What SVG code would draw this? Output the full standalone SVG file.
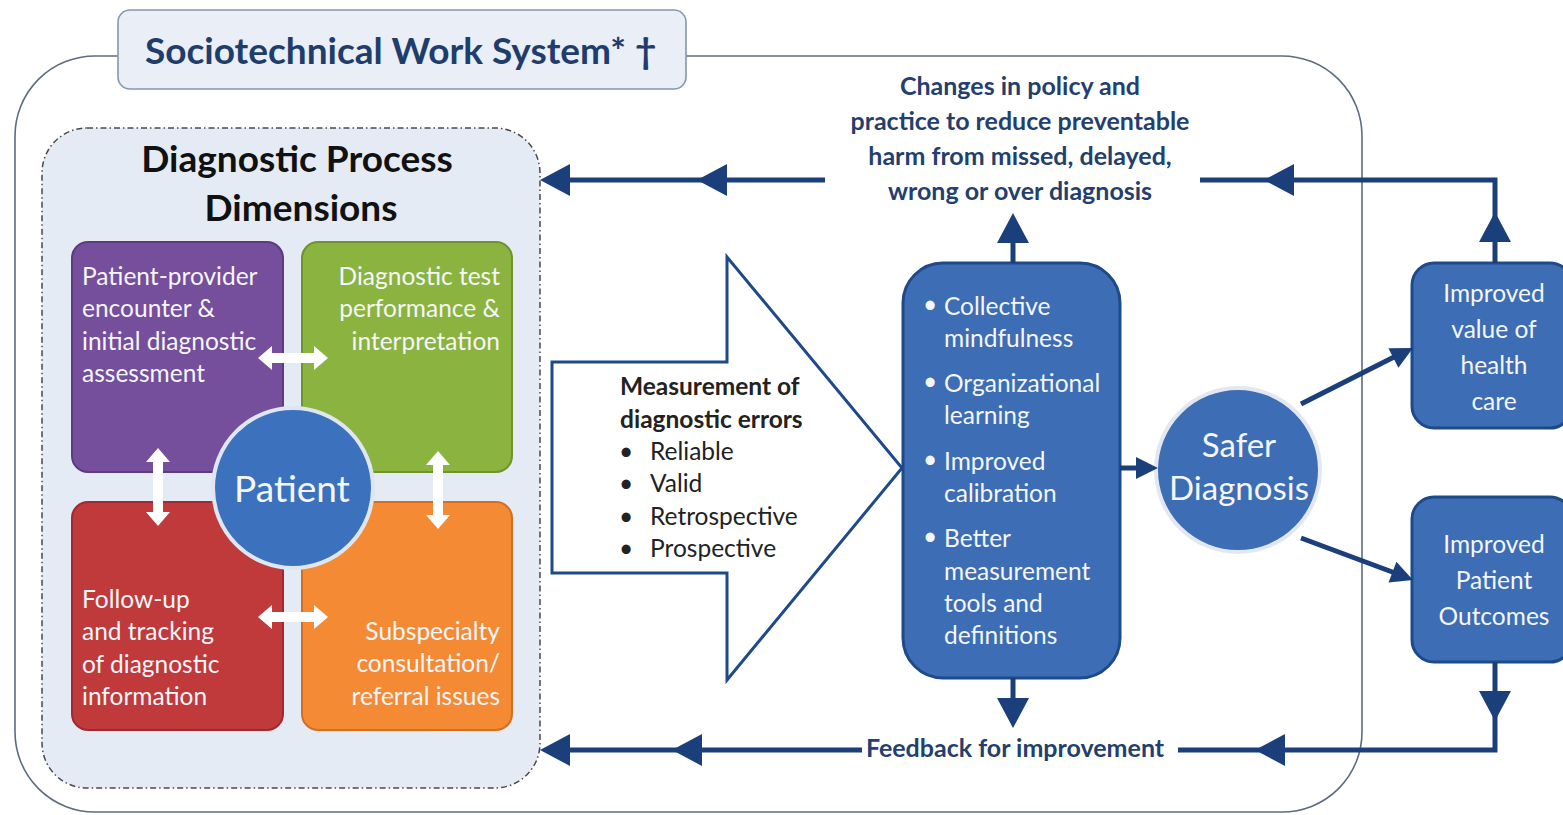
<svg xmlns="http://www.w3.org/2000/svg" width="1563" height="815" viewBox="0 0 1563 815">
  <defs>
    <style>
      .lbl { font-family: Lato, "Liberation Sans", sans-serif; }
      .white { fill: #f4f6fa; font-size: 24.5px; }
      .navy { fill: #243f6e; font-weight: bold; font-size: 25px; }
      .dark { fill: #222; font-size: 24.5px; }
      .conn { stroke: #1b3f7a; stroke-width: 5; fill: none; }
      .head { fill: #1b3f7a; }
      .bluebox { fill: #3d6db4; stroke: #1f4a8a; stroke-width: 3; }
      .dbl { fill: #ffffff; }
    </style>
    <!-- arrowhead, tip at origin, pointing left -->
    <path id="headL" d="M0,0 L30,-16 L30,16 Z"/>
    <path id="headS" d="M0,0 L22,-11 L22,11 Z"/>
    <!-- white double arrows -->
    <path id="dblH" d="M-35,0 L-21,-12 L-21,-5 L21,-5 L21,-12 L35,0 L21,12 L21,5 L-21,5 L-21,12 Z"/>
    <path id="dblV" d="M0,-39 L-12,-25 L-5,-25 L-5,25 L-12,25 L0,39 L12,25 L5,25 L5,-25 L12,-25 Z"/>
  </defs>

  <rect width="1563" height="815" fill="#ffffff"/>

  <!-- outer work system frame -->
  <g id="work-system">
    <rect x="15" y="56" width="1347" height="756" rx="80" ry="80" fill="none" stroke="#5d6c82" stroke-width="1.6"/>
  </g>

  <!-- title tab -->
  <g id="title">
    <rect x="118" y="10" width="568" height="79" rx="12" fill="#e9eef7" stroke="#8797ad" stroke-width="1.6"/>
    <text class="lbl" x="145" y="64" font-size="37" font-weight="bold" fill="#1f3d6b">Sociotechnical Work System* †</text>
  </g>

  <!-- diagnostic process dimensions -->
  <g id="dimensions">
    <rect x="42" y="128" width="498" height="660" rx="45" fill="#e5ebf4" stroke="#4a4a4a" stroke-width="1.5" stroke-dasharray="6 3 1.5 3"/>
    <text class="lbl" x="297" y="172" text-anchor="middle" font-size="37" font-weight="bold" fill="#111">Diagnostic Process</text>
    <text class="lbl" x="301" y="221" text-anchor="middle" font-size="37" font-weight="bold" fill="#111">Dimensions</text>
  </g>

  <g id="encounter">
    <rect x="72" y="242" width="211" height="230" rx="16" fill="#754e9c" stroke="#5d3b80" stroke-width="2"/>
    <text class="lbl white" x="82" y="285">Patient-provider</text>
    <text class="lbl white" x="82" y="317">encounter &amp;</text>
    <text class="lbl white" x="82" y="350">initial  diagnostic</text>
    <text class="lbl white" x="82" y="382">assessment</text>
  </g>

  <g id="testing">
    <rect x="302" y="242" width="210" height="230" rx="16" fill="#8bb33f" stroke="#6f9330" stroke-width="2"/>
    <text class="lbl white" x="500" y="285" text-anchor="end">Diagnostic test</text>
    <text class="lbl white" x="500" y="317" text-anchor="end">performance &amp;</text>
    <text class="lbl white" x="500" y="350" text-anchor="end">interpretation</text>
  </g>

  <g id="follow-up">
    <rect x="72" y="502" width="211" height="228" rx="16" fill="#c0393b" stroke="#9e2b2d" stroke-width="2"/>
    <text class="lbl white" x="82" y="608">Follow-up</text>
    <text class="lbl white" x="82" y="640">and tracking</text>
    <text class="lbl white" x="82" y="673">of diagnostic</text>
    <text class="lbl white" x="82" y="705">information</text>
  </g>

  <g id="referral">
    <rect x="302" y="502" width="210" height="228" rx="16" fill="#f58a34" stroke="#d46f22" stroke-width="2"/>
    <text class="lbl white" x="500" y="640" text-anchor="end">Subspecialty</text>
    <text class="lbl white" x="500" y="672" text-anchor="end">consultation/</text>
    <text class="lbl white" x="500" y="705" text-anchor="end">referral issues</text>
  </g>

  <g id="patient">
    <circle cx="293" cy="488" r="80" fill="#3c72bd" stroke="#dfe6f1" stroke-width="4"/>
    <text class="lbl" x="292" y="502" text-anchor="middle" font-size="37" fill="#f4f6fa">Patient</text>
  </g>

  <g id="dimension-links">
    <use href="#dblH" class="dbl" x="293" y="358"/>
    <use href="#dblH" class="dbl" x="293" y="617"/>
    <use href="#dblV" class="dbl" x="158" y="487"/>
    <use href="#dblV" class="dbl" x="438" y="490"/>
  </g>

  <!-- measurement block arrow -->
  <g id="measurement">
    <polygon points="552,362 727,362 727,257 902,468 727,680 727,573 552,573" fill="#ffffff" stroke="#1f4a8a" stroke-width="3"/>
    <text class="lbl dark" x="620" y="395" font-weight="bold">Measurement of</text>
    <text class="lbl dark" x="620" y="428" font-weight="bold">diagnostic errors</text>
    <text class="lbl dark" x="619" y="460">•</text><text class="lbl dark" x="650" y="460">Reliable</text>
    <text class="lbl dark" x="619" y="492">•</text><text class="lbl dark" x="650" y="492">Valid</text>
    <text class="lbl dark" x="619" y="525">•</text><text class="lbl dark" x="650" y="525">Retrospective</text>
    <text class="lbl dark" x="619" y="557">•</text><text class="lbl dark" x="650" y="557">Prospective</text>
  </g>

  <g id="improvements">
    <rect class="bluebox" x="903" y="263" width="217" height="415" rx="40"/>
    <text class="lbl white" x="923" y="313" font-size="20">•</text><text class="lbl white" x="944" y="315">Collective</text>
    <text class="lbl white" x="944" y="347">mindfulness</text>
    <text class="lbl white" x="923" y="390" font-size="20">•</text><text class="lbl white" x="944" y="392">Organizational</text>
    <text class="lbl white" x="944" y="424">learning</text>
    <text class="lbl white" x="923" y="468" font-size="20">•</text><text class="lbl white" x="944" y="470">Improved</text>
    <text class="lbl white" x="944" y="502">calibration</text>
    <text class="lbl white" x="923" y="545" font-size="20">•</text><text class="lbl white" x="944" y="547">Better</text>
    <text class="lbl white" x="944" y="580">measurement</text>
    <text class="lbl white" x="944" y="612">tools and</text>
    <text class="lbl white" x="944" y="644">definitions</text>
  </g>

  <g id="safer-diagnosis">
    <circle cx="1238" cy="470" r="82" fill="#3d6db4" stroke="#e3e8f0" stroke-width="4"/>
    <text class="lbl" x="1239" y="457" text-anchor="middle" font-size="33" fill="#f4f6fa">Safer</text>
    <text class="lbl" x="1239" y="500" text-anchor="middle" font-size="33" fill="#f4f6fa">Diagnosis</text>
  </g>

  <g id="value">
    <rect class="bluebox" x="1412" y="263" width="160" height="165" rx="22"/>
    <text class="lbl white" x="1494" y="302" text-anchor="middle" font-size="25.5">Improved</text>
    <text class="lbl white" x="1494" y="338" text-anchor="middle" font-size="25.5">value of</text>
    <text class="lbl white" x="1494" y="374" text-anchor="middle" font-size="25.5">health</text>
    <text class="lbl white" x="1494" y="410" text-anchor="middle" font-size="25.5">care</text>
  </g>

  <g id="outcomes">
    <rect class="bluebox" x="1412" y="497" width="160" height="165" rx="22"/>
    <text class="lbl white" x="1494" y="553" text-anchor="middle" font-size="25.5">Improved</text>
    <text class="lbl white" x="1494" y="589" text-anchor="middle" font-size="25.5">Patient</text>
    <text class="lbl white" x="1494" y="625" text-anchor="middle" font-size="25.5">Outcomes</text>
  </g>

  <g id="policy-label">
    <text class="lbl navy" x="1020" y="95" text-anchor="middle">Changes in policy and</text>
    <text class="lbl navy" x="1020" y="130" text-anchor="middle">practice to reduce preventable</text>
    <text class="lbl navy" x="1020" y="165" text-anchor="middle">harm from missed, delayed,</text>
    <text class="lbl navy" x="1020" y="200" text-anchor="middle">wrong or over diagnosis</text>
  </g>

  <g id="feedback-label">
    <text class="lbl navy" x="1015" y="757" text-anchor="middle">Feedback for improvement</text>
  </g>

  <!-- connectors -->
  <g id="connectors">
    <!-- policy loop -->
    <polyline class="conn" points="1495,263 1495,180 1200,180"/>
    <line class="conn" x1="825" y1="180" x2="548" y2="180"/>
    <use href="#headL" class="head" transform="translate(1495,212) rotate(90)"/>
    <use href="#headL" class="head" transform="translate(1264,180)"/>
    <use href="#headL" class="head" transform="translate(697,180)"/>
    <use href="#headL" class="head" transform="translate(540,180)"/>
    <line class="conn" x1="1013" y1="263" x2="1013" y2="240"/>
    <use href="#headL" class="head" transform="translate(1013,213) rotate(90)"/>

    <!-- feedback loop -->
    <polyline class="conn" points="1495,662 1495,750 1178,750"/>
    <line class="conn" x1="862" y1="750" x2="548" y2="750"/>
    <use href="#headL" class="head" transform="translate(1495,721) rotate(-90)"/>
    <use href="#headL" class="head" transform="translate(1255,750)"/>
    <use href="#headL" class="head" transform="translate(672,750)"/>
    <use href="#headL" class="head" transform="translate(540,750)"/>
    <line class="conn" x1="1013" y1="678" x2="1013" y2="700"/>
    <use href="#headL" class="head" transform="translate(1013,728) rotate(-90)"/>

    <!-- improvements to safer diagnosis -->
    <line class="conn" x1="1120" y1="468" x2="1140" y2="468"/>
    <use href="#headS" class="head" transform="translate(1158,468) rotate(180)"/>

    <!-- safer diagnosis to outcomes -->
    <line class="conn" x1="1301" y1="404" x2="1396" y2="356"/>
    <use href="#headS" class="head" transform="translate(1413,348) rotate(153)"/>
    <line class="conn" x1="1301" y1="538" x2="1395" y2="573"/>
    <use href="#headS" class="head" transform="translate(1413,580) rotate(-159)"/>
  </g>
</svg>
